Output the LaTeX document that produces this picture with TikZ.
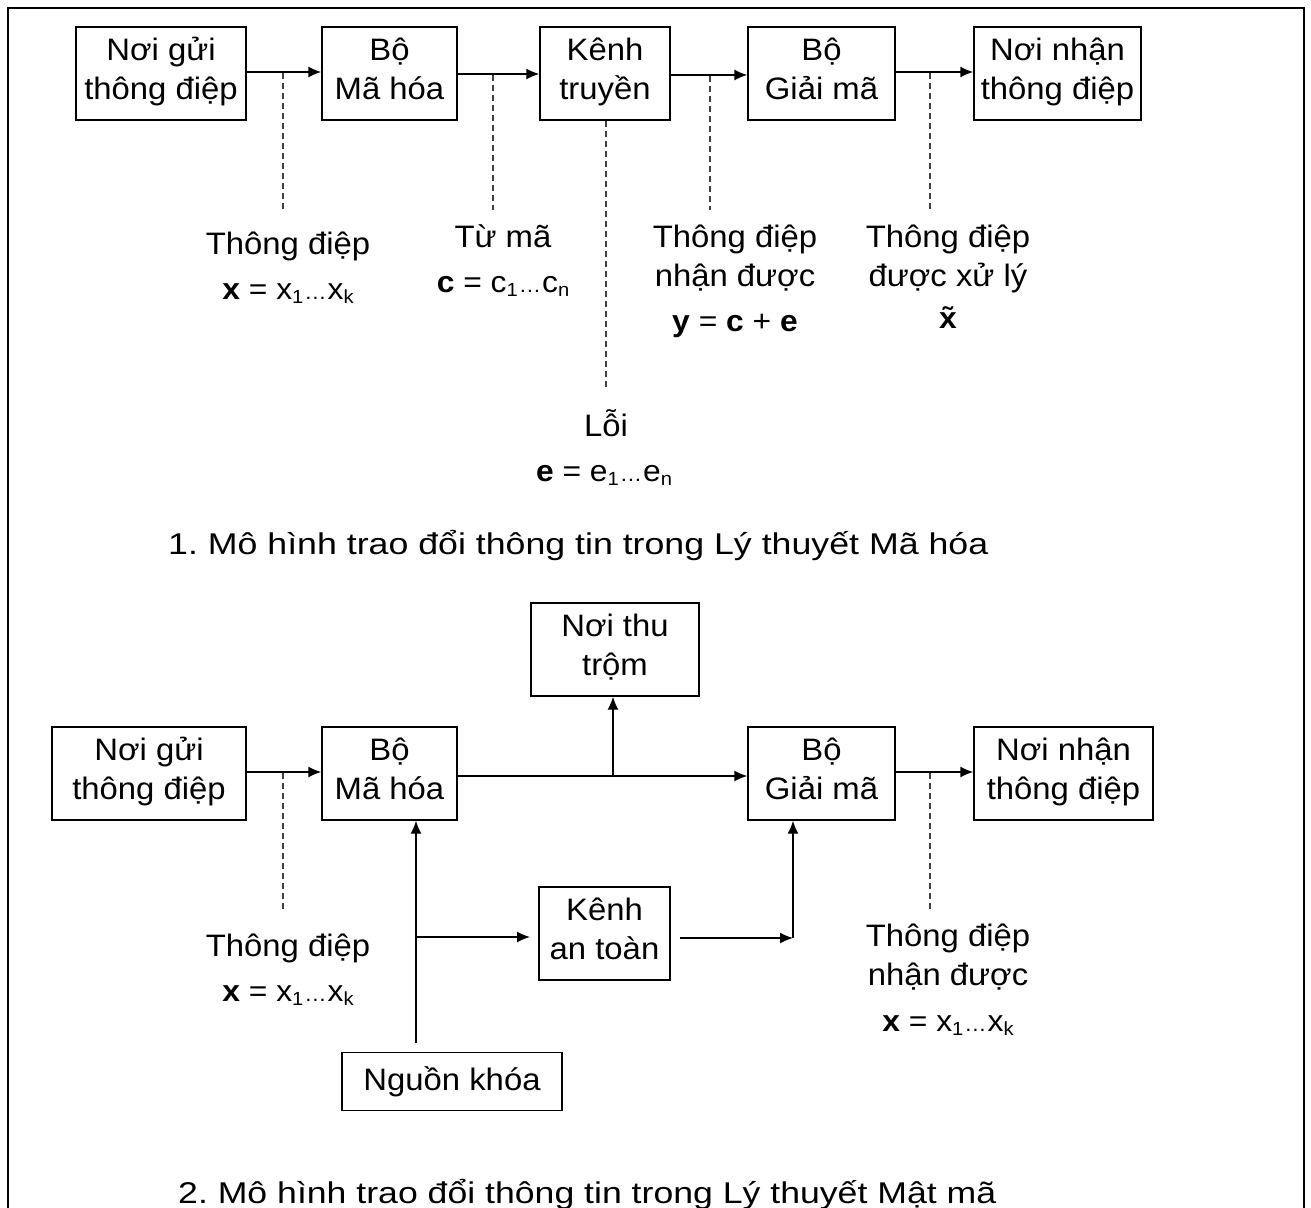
\documentclass[tikz,border=0pt]{standalone}
\usepackage{fontspec}
\setmainfont{Liberation Sans}[FakeStretch=1.06]
\usetikzlibrary{arrows.meta}
\frenchspacing
\newcommand\bxfont{\fontsize{31}{39}\selectfont}
\newcommand\capfont{\fontsize{30}{34}\selectfont}
\newcommand\mystrut{\rule[-10pt]{0pt}{29pt}}
\newcommand\subx[1]{\raisebox{-4pt}{\fontsize{19}{19}\selectfont #1}}
\newcommand\dts{{\fontsize{21}{21}\selectfont\kern1pt …\kern1pt}}
\newcommand\capbox[1]{\resizebox{#1}{\height}}
\begin{document}
\begin{tikzpicture}[x=1pt,y=-1pt,
  boxnode/.style={draw=black,line width=1.4pt,rectangle,minimum height=93pt,inner sep=0pt,align=center,font=\bxfont},
  lbl/.style={inner sep=0pt,anchor=base,font=\bxfont},
  frm/.style={inner sep=0pt,anchor=base,font=\fontsize{30}{34}\selectfont},
  arr/.style={line width=1.4pt,-{Latex[length=13pt,width=11pt]}},
  dsh/.style={line width=1.3pt,draw=black!75,dash pattern=on 6pt off 4pt}]
\useasboundingbox (0,0) rectangle (1311,1207);
% frame
\draw[line width=2.2pt] (8,1220) -- (8,8) -- (1304,8) -- (1304,1220);

% ---------- Diagram 1 ----------
\node[boxnode,minimum width=170pt] (t1) at (161,73.5) {\mystrut Nơi gửi\\\mystrut thông điệp};
\node[boxnode,minimum width=135pt] (t2) at (389.5,73.5) {\mystrut Bộ\\\mystrut Mã hóa};
\node[boxnode,minimum width=130pt] (t3) at (605,73.5) {\mystrut Kênh\\\mystrut truyền};
\node[boxnode,minimum width=147pt] (t4) at (821.5,73.5) {\mystrut Bộ\\\mystrut Giải mã};
\node[boxnode,minimum width=167pt] (t5) at (1057.5,73.5) {\mystrut Nơi nhận\\\mystrut thông điệp};

\draw[arr] (t1.east|-0,72) -- (t2.west|-0,72);
\draw[arr] (t2.east|-0,74) -- (t3.west|-0,74);
\draw[arr] (t3.east|-0,75) -- (t4.west|-0,75);
\draw[arr] (t4.east|-0,72) -- (t5.west|-0,72);

\coordinate (d1a) at (283,73);
\coordinate (d2a) at (493,75);
\coordinate (d3a) at (710,76);
\coordinate (d4a) at (930,73);

\node[lbl] (l1a) at (288,254) {Thông điệp};
\node[frm] (l1b) at (288,299) {\textbf{x} = x\subx{1}\dts x\subx{k}};
\node[lbl] (l2a) at (503,247) {Từ mã};
\node[frm] (l2b) at (503,292) {\textbf{c} = c\subx{1}\dts c\subx{n}};
\node[lbl] (l3a) at (735,247) {Thông điệp};
\node[lbl] (l3b) at (735,286) {nhận được};
\node[frm] (l3c) at (735,331) {\textbf{y} = \textbf{c} + \textbf{e}};
\node[lbl] (l4a) at (948,247) {Thông điệp};
\node[lbl] (l4b) at (948,286) {được xử lý};
\node[frm] (l4c) at (948,328) {\textbf{\~x}};
\node[lbl] (l5a) at (606,436) {Lỗi};
\node[frm] (l5b) at (604,481) {\textbf{e} = e\subx{1}\dts e\subx{n}};

\draw[dsh] (d1a) -- (283,212);
\draw[dsh] (d2a) -- (493,210);
\draw[dsh] (d3a) -- (710,210);
\draw[dsh] (d4a) -- (930,210);
\draw[dsh] (t3.south-|606,0) -- (606,388);

\node[inner sep=0pt,anchor=base west,font=\capfont] (cap1) at (168,554) {\capbox{820pt}{1. Mô hình trao đổi thông tin trong Lý thuyết Mã hóa}};

% ---------- Diagram 2 ----------
\node[boxnode,minimum width=168pt] (eav) at (615,649.5) {\mystrut Nơi thu\\\mystrut trộm};
\node[boxnode,minimum width=194pt] (b1) at (149,773.5) {\mystrut Nơi gửi\\\mystrut thông điệp};
\node[boxnode,minimum width=135pt] (b2) at (389.5,773.5) {\mystrut Bộ\\\mystrut Mã hóa};
\node[boxnode,minimum width=147pt] (b4) at (821.5,773.5) {\mystrut Bộ\\\mystrut Giải mã};
\node[boxnode,minimum width=179pt] (b5) at (1063.5,773.5) {\mystrut Nơi nhận\\\mystrut thông điệp};
\node[boxnode,minimum width=131pt] (kn) at (604.5,933.5) {\mystrut Kênh\\\mystrut an toàn};
\node[boxnode,minimum width=220pt,minimum height=58pt] (key) at (452,1081.5) {Nguồn khóa};

\draw[arr] (b1.east|-0,772) -- (b2.west|-0,772);
\draw[arr] (b2.east|-0,776) -- (b4.west|-0,776);
\draw[arr] (b4.east|-0,772) -- (b5.west|-0,772);
\coordinate (br) at (613,776);
\draw[arr] (br) -- (eav.south-|br);

\coordinate (k0) at (416,1043);
\coordinate (k1) at (416,937);
\coordinate (k2) at (530,937);
\draw[arr] (k0) -- (b2.south-|k0);
\draw[arr] (k1) -- (k2);
\coordinate (s0) at (680,938);
\coordinate (s1) at (793,938);
\draw[arr] (s0) -- (s1);
\draw[arr] (s1) -- (b4.south-|s1);

\draw[dsh] (283,773) -- (283,910);
\draw[dsh] (930,773) -- (930,910);

\node[lbl] (m1a) at (288,956) {Thông điệp};
\node[frm] (m1b) at (288,1001) {\textbf{x} = x\subx{1}\dts x\subx{k}};
\node[lbl] (m2a) at (948,946) {Thông điệp};
\node[lbl] (m2b) at (948,985) {nhận được};
\node[frm] (m2c) at (948,1031) {\textbf{x} = x\subx{1}\dts x\subx{k}};

\node[inner sep=0pt,anchor=base west,font=\capfont] (cap2) at (178,1203) {\capbox{818pt}{2. Mô hình trao đổi thông tin trong Lý thuyết Mật mã}};
\end{tikzpicture}
\end{document}
